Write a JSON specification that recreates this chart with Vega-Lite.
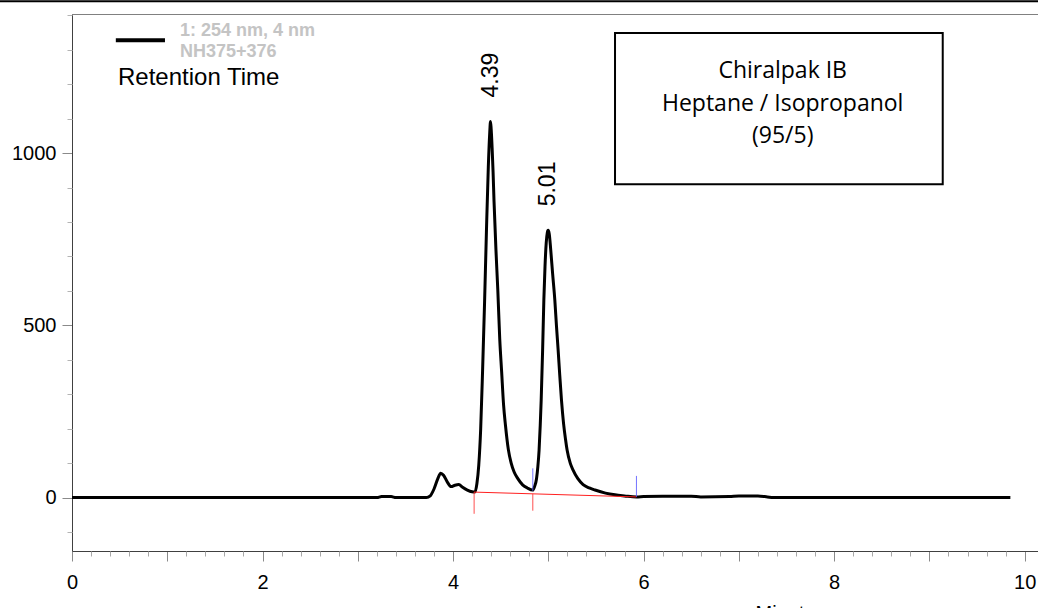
{
  "$schema": "https://vega.github.io/schema/vega-lite/v6.json",
  "width": 966,
  "height": 537,
  "autosize": {"type": "none"},
  "padding": {"left": 72, "top": 14, "right": 0, "bottom": 57},
  "background": "white",
  "config": {
    "view": {"stroke": null},
    "axis": {"grid": false, "labelFont": "Liberation Sans", "titleFont": "Liberation Sans"}
  },
  "datasets": {
    "trace": [
      {"t": 0, "v": 0}, {"t": 3.2, "v": 0}, {"t": 3.25, "v": 3}, {"t": 3.35, "v": 3}, {"t": 3.4, "v": 0},
      {"t": 3.72, "v": 0}, {"t": 3.76, "v": 5}, {"t": 3.8, "v": 25}, {"t": 3.84, "v": 55}, {"t": 3.87, "v": 71},
      {"t": 3.9, "v": 65}, {"t": 3.94, "v": 45}, {"t": 3.98, "v": 32}, {"t": 4.02, "v": 36}, {"t": 4.06, "v": 38},
      {"t": 4.1, "v": 30}, {"t": 4.15, "v": 22}, {"t": 4.2, "v": 17}, {"t": 4.23, "v": 16},
      {"t": 4.25, "v": 40}, {"t": 4.27, "v": 95}, {"t": 4.29, "v": 200}, {"t": 4.31, "v": 370}, {"t": 4.33, "v": 560},
      {"t": 4.35, "v": 770}, {"t": 4.37, "v": 960}, {"t": 4.385, "v": 1060}, {"t": 4.393, "v": 1092}, {"t": 4.4, "v": 1070},
      {"t": 4.41, "v": 1015}, {"t": 4.42, "v": 945}, {"t": 4.43, "v": 860}, {"t": 4.45, "v": 720}, {"t": 4.47, "v": 600},
      {"t": 4.49, "v": 460}, {"t": 4.51, "v": 365}, {"t": 4.53, "v": 270}, {"t": 4.55, "v": 210}, {"t": 4.58, "v": 140},
      {"t": 4.61, "v": 100}, {"t": 4.64, "v": 75}, {"t": 4.68, "v": 55}, {"t": 4.73, "v": 37}, {"t": 4.78, "v": 28},
      {"t": 4.837, "v": 22},
      {"t": 4.855, "v": 32}, {"t": 4.876, "v": 55}, {"t": 4.89, "v": 90}, {"t": 4.903, "v": 138}, {"t": 4.915, "v": 210},
      {"t": 4.925, "v": 283}, {"t": 4.94, "v": 428}, {"t": 4.953, "v": 574}, {"t": 4.965, "v": 670}, {"t": 4.978, "v": 740},
      {"t": 4.99, "v": 770}, {"t": 4.998, "v": 776}, {"t": 5.01, "v": 765}, {"t": 5.025, "v": 720}, {"t": 5.045, "v": 650},
      {"t": 5.068, "v": 574}, {"t": 5.085, "v": 500}, {"t": 5.103, "v": 428}, {"t": 5.12, "v": 355}, {"t": 5.138, "v": 283},
      {"t": 5.16, "v": 215}, {"t": 5.18, "v": 170}, {"t": 5.197, "v": 138}, {"t": 5.23, "v": 100}, {"t": 5.26, "v": 80},
      {"t": 5.31, "v": 55}, {"t": 5.365, "v": 38}, {"t": 5.43, "v": 28}, {"t": 5.49, "v": 22}, {"t": 5.6, "v": 13},
      {"t": 5.7, "v": 8}, {"t": 5.8, "v": 5},
      {"t": 5.925, "v": 2}, {"t": 6.0, "v": 3}, {"t": 6.2, "v": 4}, {"t": 6.5, "v": 4}, {"t": 6.6, "v": 2},
      {"t": 6.9, "v": 3}, {"t": 7.0, "v": 5}, {"t": 7.2, "v": 5}, {"t": 7.3, "v": 2}, {"t": 7.36, "v": 0},
      {"t": 9.85, "v": 0}
    ],
    "baseline": [
      {"t": 4.221, "v": 16}, {"t": 5.925, "v": 2}
    ],
    "redTicks": [
      {"t": 4.221, "lo": -47, "hi": 16},
      {"t": 4.837, "lo": -38, "hi": 11}
    ],
    "blueTicks": [
      {"t": 4.837, "lo": 20, "hi": 85},
      {"t": 5.925, "lo": 2, "hi": 63}
    ],
    "peaks": [
      {"t": 4.393, "v": 1092, "label": "4.39"},
      {"t": 4.998, "v": 776, "label": "5.01"}
    ]
  },
  "resolve": {"axis": {"x": "independent", "y": "independent"}},
  "layer": [
    {
      "data": {"values": [{}]},
      "mark": {"type": "rect", "fill": "white", "stroke": "black", "strokeWidth": 2},
      "encoding": {
        "x": {"datum": 5.7, "type": "quantitative", "scale": {"domain": [0, 10.14], "nice": false, "zero": false}, "axis": null},
        "x2": {"datum": 9.14},
        "y": {"datum": 1349, "type": "quantitative", "scale": {"domain": [-155, 1404], "nice": false, "zero": false}, "axis": null},
        "y2": {"datum": 910}
      }
    },
    {
      "data": {"name": "trace"},
      "mark": {"type": "line", "color": "black", "strokeWidth": 3, "interpolate": "monotone"},
      "encoding": {
        "x": {
          "field": "t", "type": "quantitative",
          "scale": {"domain": [0, 10.14], "nice": false, "zero": false},
          "axis": {
            "orient": "bottom",
            "values": [0, 1, 2, 3, 4, 5, 6, 7, 8, 9, 10],
            "labelExpr": "datum.value % 2 == 0 ? datum.label : ''",
            "tickSize": 10, "tickColor": "#8a8a8a", "domainColor": "#404040",
            "labelFontSize": 20, "labelColor": "black", "labelPadding": 11,
            "labelFlush": false, "labelOverlap": false, "labelBound": false,
            "title": "Minutes", "titleFontSize": 20, "titleFontWeight": "normal", "titleColor": "black",
            "titleX": 718, "titleY": 52, "titleBaseline": "top", "titleAlign": "center"
          }
        },
        "y": {
          "field": "v", "type": "quantitative",
          "scale": {"domain": [-155, 1404], "nice": false, "zero": false},
          "axis": {
            "orient": "left",
            "values": [0, 500, 1000],
            "format": "d",
            "tickSize": 10, "tickColor": "#8a8a8a", "domainColor": "#404040",
            "labelFontSize": 20, "labelColor": "black", "labelPadding": 6,
            "labelFlush": false, "labelOverlap": false,
            "title": null
          }
        }
      }
    },
    {
      "data": {"name": "baseline"},
      "mark": {"type": "line", "color": "#ff2020", "strokeWidth": 1},
      "encoding": {
        "x": {
          "field": "t", "type": "quantitative",
          "scale": {"domain": [0, 10.14], "nice": false, "zero": false},
          "axis": {
            "orient": "bottom",
            "values": [0.2, 0.4, 0.6, 0.8, 1.2, 1.4, 1.6, 1.8, 2.2, 2.4, 2.6, 2.8, 3.2, 3.4, 3.6, 3.8, 4.2, 4.4, 4.6, 4.8, 5.2, 5.4, 5.6, 5.8, 6.2, 6.4, 6.6, 6.8, 7.2, 7.4, 7.6, 7.8, 8.2, 8.4, 8.6, 8.8, 9.2, 9.4, 9.6, 9.8],
            "tickSize": 5, "tickColor": "#a8a8a8", "domain": false, "labels": false, "title": null
          }
        },
        "y": {
          "field": "v", "type": "quantitative",
          "scale": {"domain": [-155, 1404], "nice": false, "zero": false},
          "axis": {
            "orient": "left",
            "values": [-100, 100, 200, 300, 400, 600, 700, 800, 900, 1100, 1200, 1300, 1400],
            "tickSize": 5, "tickColor": "#b4b4b4", "domain": false, "labels": false, "title": null
          }
        }
      }
    },
    {
      "data": {"name": "redTicks"},
      "mark": {"type": "rule", "color": "#ff3030", "strokeWidth": 1, "opacity": 0.85},
      "encoding": {
        "x": {
          "field": "t", "type": "quantitative",
          "scale": {"domain": [0, 10.14], "nice": false, "zero": false},
          "axis": {"orient": "top", "domain": true, "domainColor": "#808080", "ticks": false, "labels": false, "title": null}
        },
        "y": {"field": "lo", "type": "quantitative", "axis": null},
        "y2": {"field": "hi"}
      }
    },
    {
      "data": {"name": "blueTicks"},
      "mark": {"type": "rule", "color": "#5a5aff", "strokeWidth": 1, "opacity": 0.85},
      "encoding": {
        "x": {"field": "t", "type": "quantitative", "axis": null},
        "y": {"field": "lo", "type": "quantitative", "axis": null},
        "y2": {"field": "hi"}
      }
    },
    {
      "data": {"name": "peaks"},
      "mark": {"type": "text", "angle": 270, "align": "left", "baseline": "middle", "font": "Liberation Sans", "fontSize": 23, "color": "black", "yOffset": -24},
      "encoding": {
        "x": {"field": "t", "type": "quantitative", "axis": null},
        "y": {"field": "v", "type": "quantitative", "axis": null},
        "text": {"field": "label"}
      }
    },
    {
      "data": {"values": [{}]},
      "mark": {"type": "text", "text": ["Chiralpak IB", "Heptane / Isopropanol", "(95/5)"], "lineHeight": 32.5, "font": "Open Sans", "fontSize": 23, "align": "center", "baseline": "alphabetic", "color": "black"},
      "encoding": {
        "x": {"datum": 7.46, "type": "quantitative", "axis": null},
        "y": {"datum": 1218, "type": "quantitative", "axis": null}
      }
    },
    {
      "data": {"values": [{}]},
      "mark": {"type": "rule", "color": "black", "strokeWidth": 4},
      "encoding": {
        "x": {"datum": 0.46, "type": "quantitative", "axis": null},
        "x2": {"datum": 0.976},
        "y": {"datum": 1328, "type": "quantitative", "axis": null}
      }
    },
    {
      "data": {"values": [{}]},
      "mark": {"type": "text", "text": ["1: 254 nm, 4 nm", "NH375+376"], "lineHeight": 21, "font": "Liberation Sans", "fontSize": 18, "fontWeight": "bold", "align": "left", "baseline": "alphabetic", "color": "#c4c4c4"},
      "encoding": {
        "x": {"datum": 1.133, "type": "quantitative", "axis": null},
        "y": {"datum": 1339.6, "type": "quantitative", "axis": null}
      }
    },
    {
      "data": {"values": [{}]},
      "mark": {"type": "text", "text": "Retention Time", "font": "Liberation Sans", "fontSize": 24, "align": "left", "baseline": "alphabetic", "color": "black"},
      "encoding": {
        "x": {"datum": 0.483, "type": "quantitative", "axis": null},
        "y": {"datum": 1197.4, "type": "quantitative", "axis": null}
      }
    },
    {
      "data": {"values": [{}]},
      "mark": {"type": "rule", "color": "black", "strokeWidth": 2},
      "encoding": {
        "x": {"datum": -0.76, "type": "quantitative", "axis": null},
        "x2": {"datum": 10.14},
        "y": {"datum": 1441, "type": "quantitative", "axis": null}
      }
    }
  ]
}
